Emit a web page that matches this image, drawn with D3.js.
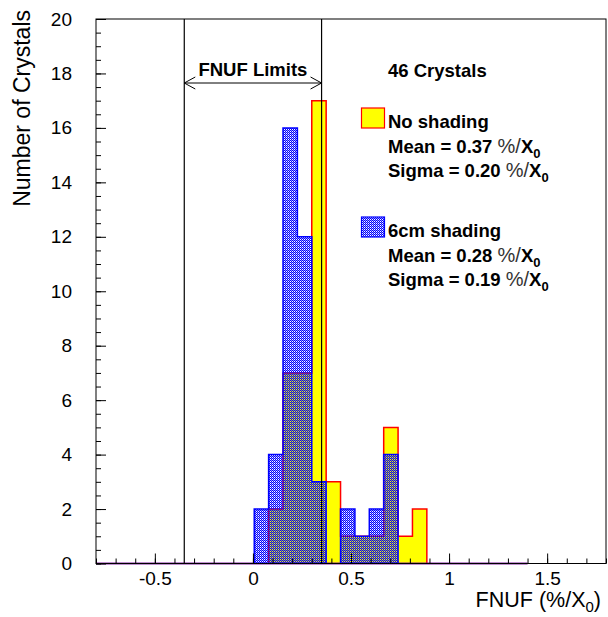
<!DOCTYPE html>
<html lang="en">
<head>
  <meta charset="UTF-8">
  <title>FNUF</title>
  <script src="https://d3js.org/d3.v7.min.js"></script>
  <style>
    body { margin: 0; background: #fff; }
    text { font-family: "Liberation Sans", Arial, sans-serif; }
  </style>
</head>
<body>
  <svg width="608" height="617"></svg>

  <script>
    // Histogram binning (30 bins from -0.8 to 1.4)
    const binLow = -0.8, binHigh = 1.4, nBins = 30;

    // Counts per bin
    const noShading = [0,0,0,0,0,0,0,0,0,0,0,
                       0,2,7,7,17,3,1,1,1,5,1,2,
                       0,0,0,0,0,0,0];
    const shading6cm = [0,0,0,0,0,0,0,0,0,0,0,
                        2,4,16,12,3,0,2,1,2,4,0,0,
                        0,0,0,0,0,0,0];

    // FNUF limits
    const limits = [-0.35, 0.35];

    // Axis ticks
    const xTickValues = [-0.5, 0, 0.5, 1, 1.5];
    const xTickLabels = ["-0.5", "0", "0.5", "1", "1.5"];
    const yTickValues = [0, 2, 4, 6, 8, 10, 12, 14, 16, 18, 20];
    const yTickLabels = ["0", "2", "4", "6", "8", "10", "12", "14", "16", "18", "20"];

    // Legend entries
    const legendEntries = [
      { name: "No shading", mean: "0.37", sigma: "0.20", fill: "#ffff00", stroke: "#ff0000" },
      { name: "6cm shading", mean: "0.28", sigma: "0.19", fill: "url(#dots)", stroke: "#0000ff" }
    ];

    const svg = d3.select("svg");
    const pLeft = 96, pRight = 606, pTop = 19, pBottom = 563.5;

    const x = d3.scaleLinear().domain([-0.8, 1.8]).range([pLeft, pRight]);
    const y = d3.scaleLinear().domain([0, 20]).range([pBottom, pTop]);

    // Dotted fill pattern for the shaded histogram
    const defs = svg.append("defs");
    const pat = defs.append("pattern")
      .attr("id", "dots")
      .attr("width", 2).attr("height", 2)
      .attr("patternUnits", "userSpaceOnUse");
    pat.append("rect").attr("x", 0).attr("y", 0).attr("width", 1).attr("height", 1).attr("fill", "#0000ff");
    pat.append("rect").attr("x", 1).attr("y", 1).attr("width", 1).attr("height", 1).attr("fill", "#0000ff");
    pat.append("rect").attr("x", 1).attr("y", 0).attr("width", 1).attr("height", 1).attr("fill", "#0000ff").attr("opacity", 0.45);

    const binWidth = (binHigh - binLow) / nBins;
    function stepPoints(counts) {
      const pts = [[binLow, 0]];
      counts.forEach((c, i) => {
        pts.push([binLow + i * binWidth, c]);
        pts.push([binLow + (i + 1) * binWidth, c]);
      });
      pts.push([binHigh, 0]);
      return pts;
    }
    const line = d3.line().x(d => x(d[0])).y(d => y(d[1]));

    // No shading (yellow), then 6cm shading on top
    svg.append("path")
      .attr("d", line(stepPoints(noShading)) + "Z")
      .attr("fill", "#ffff00")
      .attr("stroke", "#ff0000")
      .attr("stroke-width", 1.5);

    svg.append("path")
      .attr("d", line(stepPoints(shading6cm)) + "Z")
      .attr("fill", "url(#dots)")
      .attr("stroke", "#0000ff")
      .attr("stroke-width", 1.5);

    // Limit lines
    svg.selectAll(".limit")
      .data(limits)
      .join("line")
      .attr("x1", d => x(d)).attr("x2", d => x(d))
      .attr("y1", pTop).attr("y2", pBottom)
      .attr("stroke", "#000")
      .attr("stroke-width", 1.2);

    // Double arrow between the limits
    const ay = 83, x0 = x(limits[0]), x1 = x(limits[1]);
    svg.append("path")
      .attr("d", `M${x0},${ay}H${x1}M${x0 + 11},${ay - 6}L${x0},${ay}L${x0 + 11},${ay + 6}M${x1 - 11},${ay - 6}L${x1},${ay}L${x1 - 11},${ay + 6}`)
      .attr("fill", "none")
      .attr("stroke", "#000")
      .attr("stroke-width", 1);
    svg.append("text")
      .attr("x", (x0 + x1) / 2).attr("y", 76)
      .attr("text-anchor", "middle")
      .style("font-size", "18.5px").style("font-weight", "bold")
      .text("FNUF Limits");

    // Axes (ticks pointing inward)
    const yMinor = d3.range(0, 20.01, 0.5);
    svg.append("g")
      .attr("transform", `translate(${pLeft},0)`)
      .call(d3.axisLeft(y).tickValues(yMinor).tickSizeInner(-5).tickSizeOuter(0).tickFormat(""))
      .call(g => g.select(".domain").remove());
    svg.append("g")
      .attr("transform", `translate(${pLeft},0)`)
      .call(d3.axisLeft(y).tickValues(yTickValues).tickSizeInner(-10).tickSizeOuter(0)
        .tickPadding(24).tickFormat((d, i) => yTickLabels[i]))
      .call(g => g.select(".domain").remove())
      .call(g => g.selectAll("text").style("font-size", "19px").attr("fill", "#000")
        .style("font-family", "'Liberation Sans', Arial, sans-serif"));

    const xMinor = d3.range(-8, 18.01, 1).map(v => v / 10);
    svg.append("g")
      .attr("transform", `translate(0,${pBottom})`)
      .call(d3.axisBottom(x).tickValues(xMinor).tickSizeInner(-5).tickSizeOuter(0).tickFormat(""))
      .call(g => g.select(".domain").remove());
    svg.append("g")
      .attr("transform", `translate(0,${pBottom})`)
      .call(d3.axisBottom(x).tickValues(xTickValues).tickSizeInner(-10).tickSizeOuter(0)
        .tickPadding(8).tickFormat((d, i) => xTickLabels[i]))
      .call(g => g.select(".domain").remove())
      .call(g => g.selectAll("text").style("font-size", "19px").attr("fill", "#000")
        .style("font-family", "'Liberation Sans', Arial, sans-serif"));

    // Frame
    svg.append("rect")
      .attr("x", pLeft).attr("y", pTop)
      .attr("width", pRight - pLeft).attr("height", pBottom - pTop)
      .attr("fill", "none").attr("stroke", "#000").attr("stroke-width", 1);

    // Axis titles
    svg.append("text")
      .attr("transform", `translate(30,${pTop - 9}) rotate(-90)`)
      .attr("text-anchor", "end")
      .style("font-size", "23px")
      .text("Number of Crystals");

    const xt = svg.append("text")
      .attr("x", 601).attr("y", 607)
      .attr("text-anchor", "end")
      .style("font-size", "21.5px");
    xt.append("tspan").text("FNUF (%/X");
    xt.append("tspan").attr("dy", 5).style("font-size", "15px").text("0");
    xt.append("tspan").attr("dy", -5).text(")");

    // Legend
    svg.append("text")
      .attr("x", 388).attr("y", 77)
      .style("font-size", "18.5px").style("font-weight", "bold")
      .text("46 Crystals");

    legendEntries.forEach((e, i) => {
      const by = 128 + i * 109;
      svg.append("rect")
        .attr("x", 361.5).attr("y", by - 20)
        .attr("width", 23).attr("height", 20)
        .attr("fill", e.fill).attr("stroke", e.stroke).attr("stroke-width", 1.2);
      const rows = [
        [e.name],
        ["Mean = " + e.mean + " "],
        ["Sigma = " + e.sigma + " "]
      ];
      rows.forEach((r, j) => {
        const t = svg.append("text")
          .attr("x", 388).attr("y", by + j * 24.5)
          .style("font-size", "18.5px").style("font-weight", "bold");
        t.append("tspan").text(r[0]);
        if (j > 0) {
          t.append("tspan").style("font-weight", "normal").attr("fill", "#333")
            .style("font-size", "20px").text("%/");
          t.append("tspan").text("X");
          t.append("tspan").attr("dy", 5).style("font-size", "13px").text("0");
        }
      });
    });
  </script>
</body>
</html>
